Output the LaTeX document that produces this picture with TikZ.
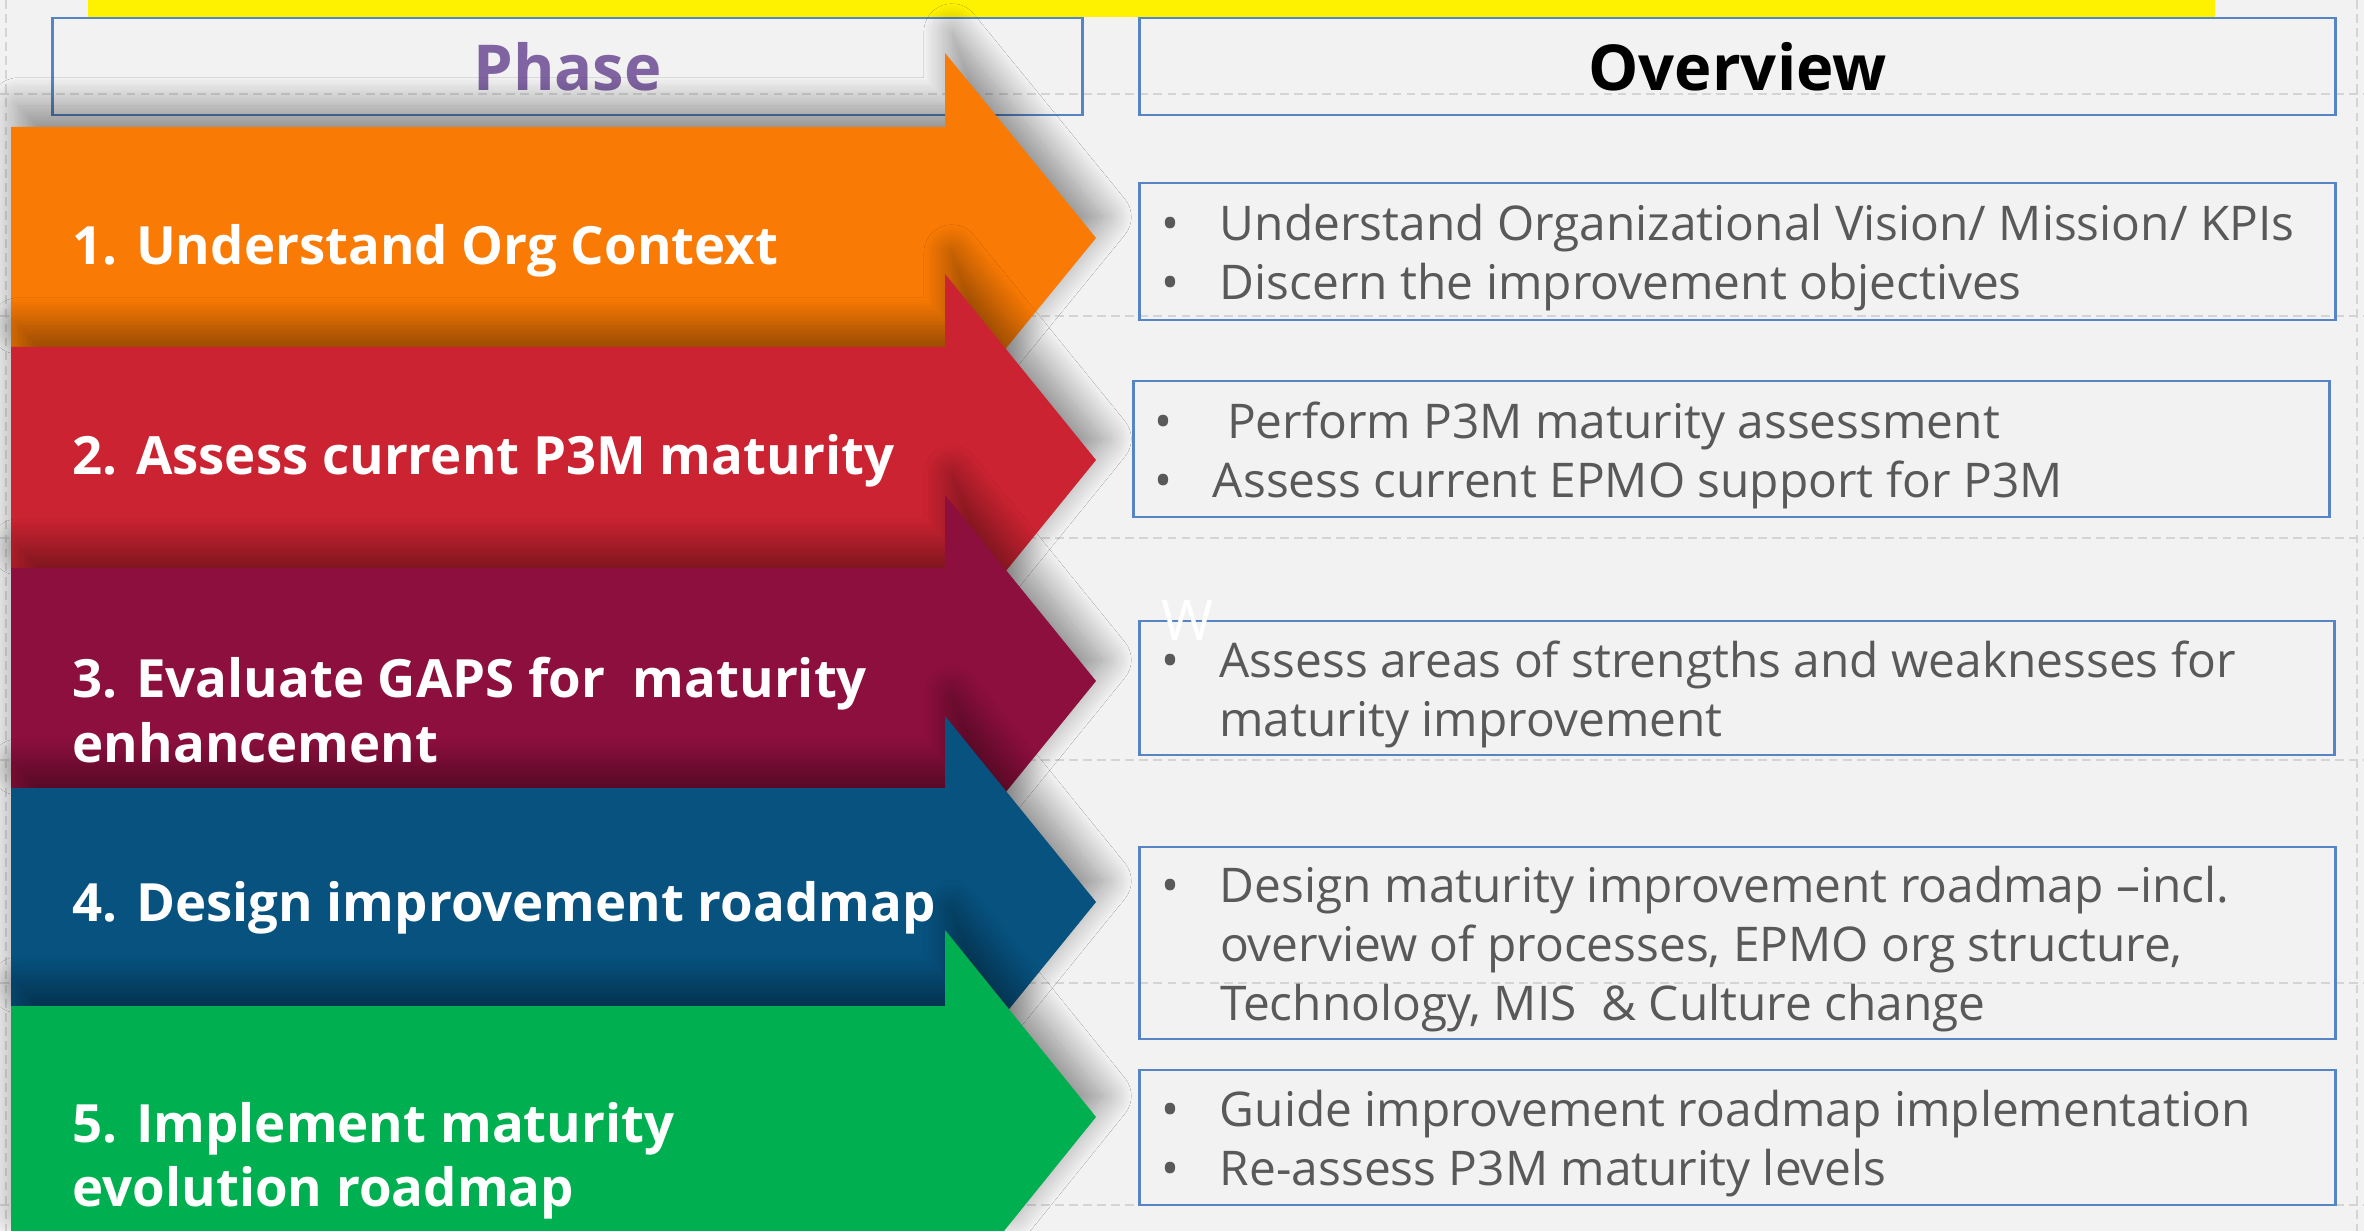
\documentclass[tikz,border=0pt]{standalone}
\usepackage{fontspec}
\setmainfont{Open Sans}
\usepackage{tikz}
\usetikzlibrary{shadows.blur}
\definecolor{bggray}{HTML}{F2F2F2}
\definecolor{gridgray}{HTML}{D4D4D4}
\definecolor{boxblue}{HTML}{5585C5}
\definecolor{bodygray}{HTML}{595959}
\definecolor{phasepurple}{HTML}{8064A2}
\definecolor{phaseorange}{HTML}{F97A04}
\definecolor{phasered}{HTML}{CB2331}
\definecolor{phasemaroon}{HTML}{8C0F3D}
\definecolor{phaseblue}{HTML}{07527F}
\definecolor{phasegreen}{HTML}{00AF50}
\newcommand\ovbullet{\makebox[0.58cm][l]{\textbullet}}
\newcommand\ovindent{\hspace*{0.58cm}}
\tikzset{
  gridline/.style={draw=gridgray, line width=0.6pt, dash pattern=on 2.5pt off 1.5pt},
  headbox/.style={draw=boxblue, line width=0.8pt, inner sep=0pt, minimum height=0.97cm,
    font=\fontsize{18}{22}\selectfont\bfseries},
  overbox/.style={draw=boxblue, line width=0.8pt, inner sep=0pt, minimum width=11.95cm},
  overtext/.style={anchor=west, inner sep=0pt, align=left, text=bodygray, yshift=-0.06cm,
    font=\fontsize{13.6}{16.8}\selectfont},
  phasearrow/.style={blur shadow={shadow xshift=2pt, shadow yshift=6pt,
    shadow blur radius=8pt, shadow blur steps=24, shadow opacity=42}},
  phaselabel/.style={anchor=base west, inner sep=0pt, text=white, align=left,
    font=\fontsize{15}{18.2}\selectfont\bfseries}
}
\begin{document}
\begin{tikzpicture}[x=0.01cm,y=-0.01cm]
\fill[bggray] (0,0) rectangle (2364,1231);
\useasboundingbox (0,0) rectangle (2364,1231);
\fill[yellow] (88,0) rectangle (2215,17);
% table grid
\draw[gridline] (0,94) -- (2364,94);
\draw[gridline] (0,316) -- (2364,316);
\draw[gridline] (0,538) -- (2364,538);
\draw[gridline] (0,760) -- (2364,760);
\draw[gridline] (0,983) -- (2364,983);
\draw[gridline] (0,1205) -- (2364,1205);
\draw[gridline] (6,0) -- (6,1231);
\draw[gridline] (2357,0) -- (2357,1231);
% headers
\node[headbox, minimum width=10.29cm, text=phasepurple] (phasehead) at (567.5,66.5) {Phase};
\node[headbox, minimum width=11.95cm, text=black] (ovhead) at (1737.5,66.5) {Overview};
% overview boxes
\node[overbox, minimum height=1.37cm] (ov1) at (1737.5,251.5) {};
\node[overtext] (ov1text) at ([xshift=0.23cm]ov1.west)
  {\ovbullet Understand Organizational Vision/ Mission/ KPIs\\
   \ovbullet Discern the improvement objectives};
\node[overbox, minimum height=1.36cm] (ov2) at (1731.5,449) {};
\node[overtext] (ov2text) at ([xshift=0.22cm]ov2.west)
  {\ovbullet\hspace{0.14cm}Perform P3M maturity assessment\\
   \ovbullet Assess current EPMO support for P3M};
\node[overbox, minimum height=1.34cm] (ov3) at (1737,688) {};
\node[overtext] (ov3text) at ([xshift=0.23cm]ov3.west)
  {\ovbullet Assess areas of strengths and weaknesses for\\
   \ovindent maturity improvement};
\node[overbox, minimum height=1.92cm] (ov4) at (1737.5,943) {};
\node[overtext] (ov4text) at ([xshift=0.23cm]ov4.west)
  {\ovbullet Design maturity improvement roadmap –incl.\\
   \ovindent overview of processes, EPMO org structure,\\
   \ovindent Technology, MIS\ \ \& Culture change};
\node[overbox, minimum height=1.35cm] (ov5) at (1737.5,1137.5) {};
\node[overtext] (ov5text) at ([xshift=0.23cm]ov5.west)
  {\ovbullet Guide improvement roadmap implementation\\
   \ovbullet Re-assess P3M maturity levels};
\node[anchor=base west, inner sep=0pt, text=white, font=\fontsize{16}{19}\selectfont] (wmark) at (1161,640) {W};
% phase arrows
\fill[phaseorange, phasearrow] (11,127) -- (945,127) -- (945,53) -- (1096,238)
  -- (945,423) -- (945,347) -- (11,347) -- cycle;
\fill[phasered, phasearrow] (11,347) -- (945,347) -- (945,274) -- (1096,460)
  -- (945,646) -- (945,568) -- (11,568) -- cycle;
\fill[phasemaroon, phasearrow] (11,568) -- (945,568) -- (945,495) -- (1096,681)
  -- (945,867) -- (945,788) -- (11,788) -- cycle;
\fill[phaseblue, phasearrow] (11,788) -- (945,788) -- (945,716) -- (1096,902)
  -- (945,1088) -- (945,1006) -- (11,1006) -- cycle;
\fill[phasegreen, phasearrow] (11,1006) -- (945,1006) -- (945,930) -- (1096,1117)
  -- (1004,1231) -- (11,1231) -- cycle;
\node[phaselabel] (ph1) at (72,265) {1. Understand Org Context};
\node[phaselabel] (ph2) at (72,475) {2. Assess current P3M maturity};
\node[phaselabel] (ph3) at (72,762) {3. Evaluate GAPS for\ \ maturity\\enhancement};
\node[phaselabel] (ph4) at (72,921) {4. Design improvement roadmap};
\node[phaselabel] (ph5) at (72,1206) {5. Implement maturity\\evolution roadmap};
\end{tikzpicture}
\end{document}
